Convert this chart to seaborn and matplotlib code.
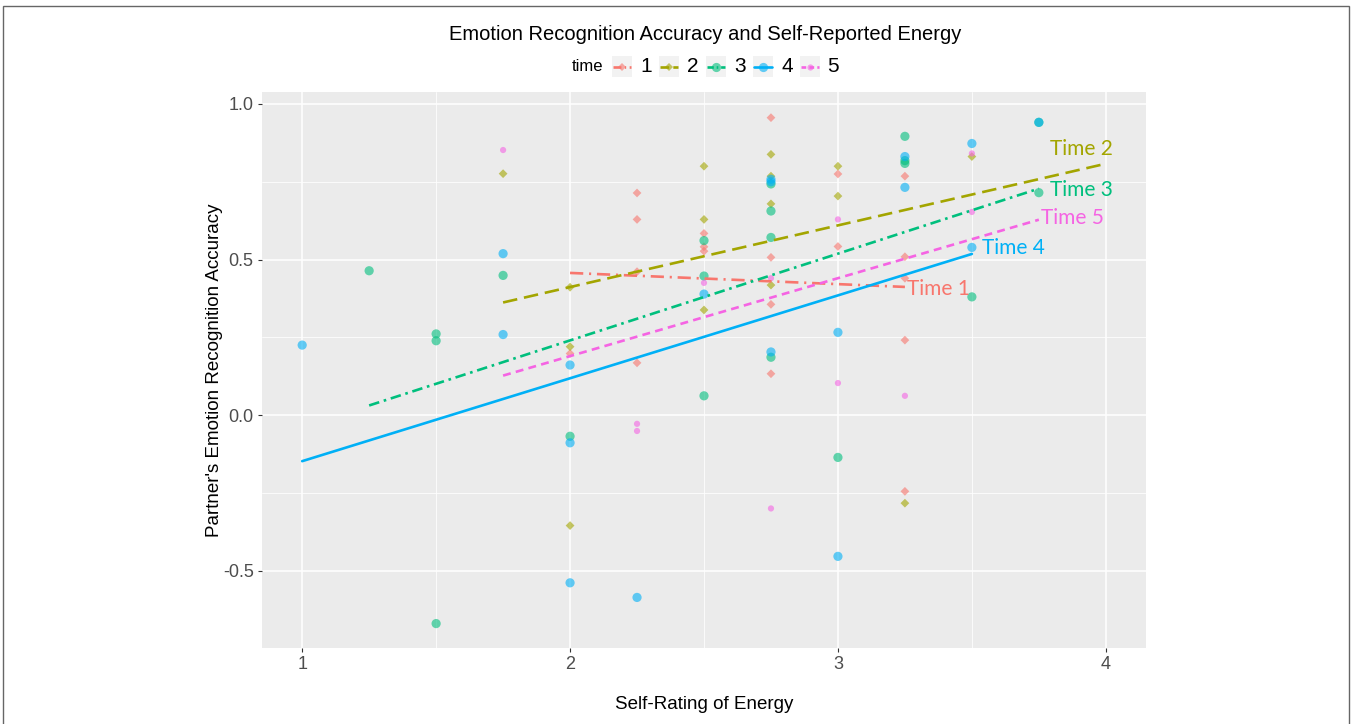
import numpy as np
import pandas as pd
import matplotlib
matplotlib.use("Agg")
import matplotlib.pyplot as plt
import seaborn as sns
from matplotlib.lines import Line2D
from matplotlib.patches import Rectangle

# ---------------- data ----------------
t1_x = [2.0, 2.25, 2.25, 2.25, 2.25, 2.5, 2.5, 2.5, 2.75, 2.75, 2.75, 2.75, 3.0, 3.0, 3.25, 3.25, 3.25, 3.25, 3.25]
t1_y = [0.198, 0.714, 0.629, 0.461, 0.168, 0.584, 0.541, 0.527, 0.956, 0.507, 0.356, 0.133, 0.775, 0.542, 0.768, 0.509, 0.44, 0.241, -0.245]

t2_x = [1.75, 2.0, 2.0, 2.0, 2.5, 2.5, 2.5, 2.75, 2.75, 2.75, 2.75, 3.0, 3.0, 3.25, 3.5]
t2_y = [0.776, 0.411, 0.22, -0.355, 0.80, 0.629, 0.338, 0.838, 0.768, 0.679, 0.418, 0.80, 0.704, -0.283, 0.831]

t3_x = [1.25, 1.5, 1.5, 1.5, 1.75, 2.0, 2.5, 2.5, 2.5, 2.75, 2.75, 2.75, 2.75, 3.0, 3.25, 3.25, 3.25, 3.5, 3.75, 3.75]
t3_y = [0.464, 0.261, 0.239, -0.67, 0.449, -0.068, 0.561, 0.447, 0.062, 0.743, 0.656, 0.571, 0.186, -0.136, 0.896, 0.818, 0.809, 0.38, 0.941, 0.715]

t4_x = [1.0, 1.75, 1.75, 2.0, 2.0, 2.0, 2.25, 2.5, 2.75, 2.75, 2.75, 3.0, 3.0, 3.25, 3.25, 3.5, 3.5, 3.75]
t4_y = [0.225, 0.519, 0.259, 0.161, -0.089, -0.539, -0.586, 0.389, 0.758, 0.75, 0.203, 0.266, -0.454, 0.831, 0.732, 0.873, 0.539, 0.941]

t5_x = [1.75, 2.25, 2.25, 2.5, 2.75, 2.75, 3.0, 3.0, 3.25, 3.5, 3.5]
t5_y = [0.852, -0.028, -0.051, 0.425, 0.44, -0.30, 0.629, 0.103, 0.062, 0.841, 0.653]

# fitted regression lines (endpoints)
fit_time = ["1", "1", "2", "2", "3", "3", "4", "4", "5", "5"]
fit_x = [2.0, 3.25, 1.75, 4.0, 1.25, 3.75, 1.0, 3.5, 1.75, 3.75]
fit_y = [0.457, 0.412, 0.362, 0.808, 0.031, 0.728, -0.148, 0.518, 0.127, 0.628]

times = ["1", "2", "3", "4", "5"]
line_labels = ["Time 1", "Time 2", "Time 3", "Time 4", "Time 5"]
label_x = [3.257, 3.79, 3.79, 3.537, 3.757]
label_y = [0.405, 0.855, 0.723, 0.537, 0.633]

title = "Emotion Recognition Accuracy and Self-Reported Energy"
xlab = "Self-Rating of Energy"
ylab = "Partner's Emotion Recognition Accuracy"
xticks = [1, 2, 3, 4]
yticks = [-0.5, 0.0, 0.5, 1.0]
ytick_labels = ["-0.5", "0.0", "0.5", "1.0"]

# ---------------- styles ----------------
colors = {"1": "#F8766D", "2": "#A3A500", "3": "#00BF7D", "4": "#00B0F6", "5": "#F564E3"}
markers = {"1": "D", "2": "D", "3": "o", "4": "o", "5": "o"}
sizes = {"1": 20, "2": 20, "3": 44, "4": 44, "5": 20}
dashes = {"1": (5, 2.2, 0.8, 2.2), "2": (5.5, 2.6), "3": (4, 1.8, 1, 1.8), "4": "", "5": (3, 2)}

pts = pd.DataFrame({
    "x": t1_x + t2_x + t3_x + t4_x + t5_x,
    "y": t1_y + t2_y + t3_y + t4_y + t5_y,
    "time": ["1"] * len(t1_x) + ["2"] * len(t2_x) + ["3"] * len(t3_x) + ["4"] * len(t4_x) + ["5"] * len(t5_x),
})
fits = pd.DataFrame({"x": fit_x, "y": fit_y, "time": fit_time})

sns.set_theme(style="darkgrid")
plt.rcParams["font.family"] = ["Liberation Sans", "DejaVu Sans"]

W, H = 1351, 724
fig = plt.figure(figsize=(W / 100, H / 100), dpi=100)
fig.patch.set_facecolor("white")
ax = fig.add_axes([262 / W, 1 - 648 / H, (1146 - 262) / W, (648 - 92) / H])
ax.set_facecolor("#EBEBEB")

sns.scatterplot(data=pts, x="x", y="y", hue="time", style="time", size="time",
                palette=colors, markers=markers, sizes=sizes, hue_order=times,
                alpha=0.6, linewidth=0, legend=False, ax=ax, zorder=3)
sns.lineplot(data=fits, x="x", y="y", hue="time", style="time", palette=colors,
             dashes=dashes, hue_order=times, linewidth=1.9, legend=False, ax=ax,
             zorder=4, estimator=None)

ax.set_xlim(0.85, 4.15)
ax.set_ylim(-0.7485, 1.0385)
ax.set_xticks(xticks)
ax.set_xticklabels([str(v) for v in xticks])
ax.set_yticks(yticks)
ax.set_yticklabels(ytick_labels)
ax.set_xticks([1.5, 2.5, 3.5], minor=True)
ax.set_yticks([-0.25, 0.25, 0.75], minor=True)
ax.grid(which="major", color="white", linewidth=1.1)
ax.grid(which="minor", color="white", linewidth=0.55)
ax.set_axisbelow(True)
for s in ax.spines.values():
    s.set_visible(False)
ax.tick_params(axis="both", which="major", length=3, width=0.8, color="#333333",
               labelcolor="#4D4D4D", labelsize=13, pad=3, bottom=True, left=True)
ax.tick_params(axis="both", which="minor", length=0)
ax.set_xlabel(xlab, fontsize=13.5, color="black", labelpad=16)
ax.set_ylabel(ylab, fontsize=13.5, color="black", labelpad=0)

for t, lab, lx, ly in zip(times, line_labels, label_x, label_y):
    ax.text(lx, ly, lab, color=colors[t], fontsize=15, family=["Lato", "DejaVu Sans"],
            ha="left", va="center", zorder=5)

fig.text(705 / W, 1 - 34 / H, title, ha="center", va="center", fontsize=14.5, color="black")

# ---------------- legend (manual, ggplot-like horizontal) ----------------
def fx(px):
    return px / W

def fy(py):
    return 1 - py / H

ly_c = 66.5
fig.text(fx(572), fy(ly_c), "time", ha="left", va="center", fontsize=12, color="black")
key_cx = [621.7, 669, 715.7, 763, 810]
lab_px = [640, 687, 734, 781, 827]
for t, cx, lpx in zip(times, key_cx, lab_px):
    fig.patches.append(Rectangle((fx(cx - 10), fy(ly_c + 10)), 20 / W, 20 / H,
                                 transform=fig.transFigure, facecolor="#F2F2F2",
                                 edgecolor="none", zorder=1))
    ln = Line2D([fx(cx - 9), fx(cx + 9)], [fy(ly_c), fy(ly_c)], transform=fig.transFigure,
                color=colors[t], linewidth=1.9, zorder=2)
    if dashes[t] != "":
        ln.set_dashes([d * 0.6 for d in dashes[t]])
    fig.lines.append(ln)
    ms = np.sqrt(sizes[t])
    fig.lines.append(Line2D([fx(cx)], [fy(ly_c)], transform=fig.transFigure,
                            marker=markers[t], markersize=ms, color=colors[t],
                            markeredgewidth=0, alpha=0.6, linestyle="none", zorder=3))
    fig.text(fx(lpx), fy(ly_c), t, ha="left", va="center", fontsize=15, color="black")

# frame around the figure
fig.patches.append(Rectangle((3 / W, -0.01), (1349 - 3) / W, 1 - 6 / H + 0.01,
                             transform=fig.transFigure, facecolor="none",
                             edgecolor="#666666", linewidth=1.0, zorder=0))

fig.savefig("out.png", dpi=100)
